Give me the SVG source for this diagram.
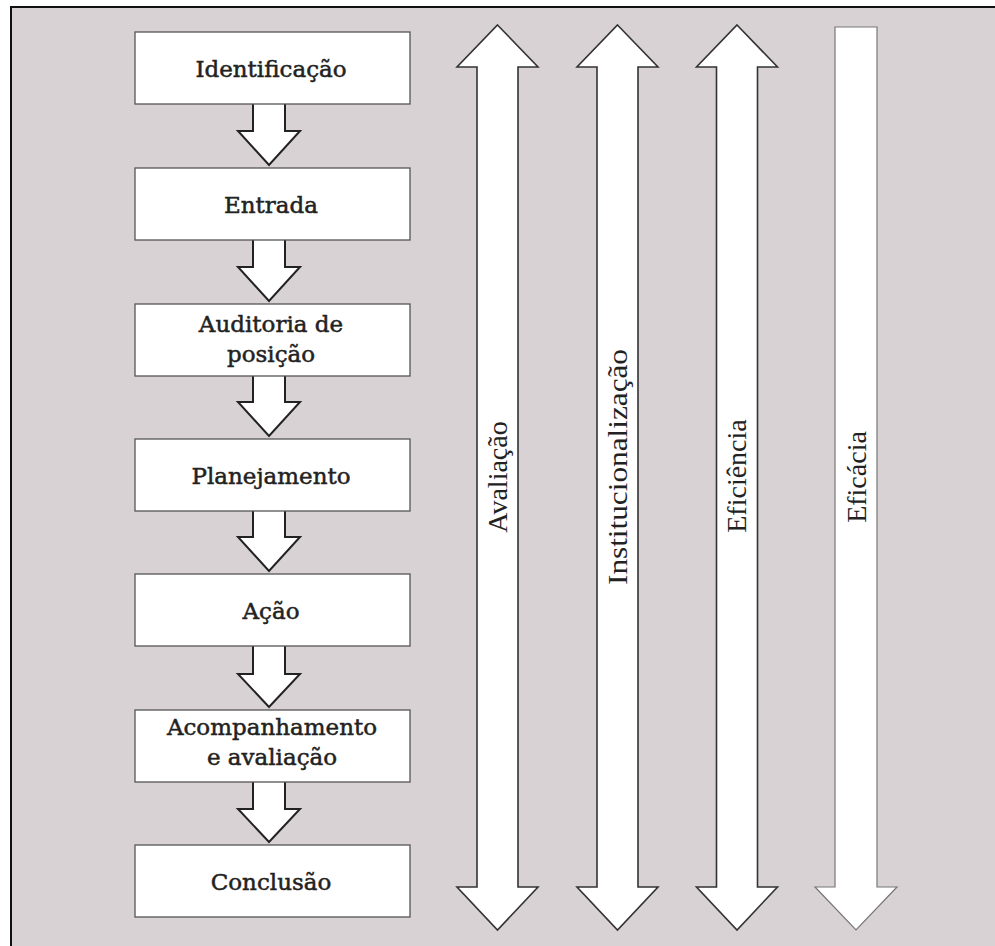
<svg xmlns="http://www.w3.org/2000/svg" width="995" height="946" viewBox="0 0 995 946">
<style>
.box{fill:#fff;stroke:#555;stroke-width:1.3}
.lbl{font-family:"DejaVu Serif","Liberation Serif",serif;font-size:23px;fill:#222;stroke:#222;stroke-width:0.5;text-anchor:middle}
.step{fill:#fff;stroke:#222;stroke-width:2;stroke-linejoin:miter}
.big{fill:#fff;stroke:#333;stroke-width:1.6;stroke-linejoin:miter}
.big4{fill:#fff;stroke:#777;stroke-width:1.2;stroke-linejoin:miter}
.vl{font-family:"Liberation Serif","Times New Roman",serif;font-size:28px;fill:#222;text-anchor:middle}
</style>
<rect x="11" y="7" width="1000" height="960" fill="#d9d2d5" stroke="#111" stroke-width="2"/>
<g id="connectors">
<path class="step" d="M253,104 V131 H238 L269,165 L300,131 H285 V104"/>
<path class="step" d="M253,240 V267 H238 L269,301 L300,267 H285 V240"/>
<path class="step" d="M253,376 V402 H238 L269,436 L300,402 H285 V376"/>
<path class="step" d="M253,511 V537 H238 L269,571 L300,537 H285 V511"/>
<path class="step" d="M253,646 V674 H238 L269,707 L300,674 H285 V646"/>
<path class="step" d="M253,782 V809 H238 L269,842 L300,809 H285 V782"/>
</g>
<g id="n1"><rect class="box" x="135" y="32" width="275" height="72"/><text class="lbl" x="271" y="77">Identificação</text></g>
<g id="n2"><rect class="box" x="135" y="168" width="275" height="72"/><text class="lbl" x="271" y="213">Entrada</text></g>
<g id="n3"><rect class="box" x="135" y="304" width="275" height="72"/><text class="lbl" x="271" y="332">Auditoria de</text><text class="lbl" x="271" y="362">posição</text></g>
<g id="n4"><rect class="box" x="135" y="439" width="275" height="72"/><text class="lbl" x="271" y="484">Planejamento</text></g>
<g id="n5"><rect class="box" x="135" y="574" width="275" height="72"/><text class="lbl" x="271" y="619">Ação</text></g>
<g id="n6"><rect class="box" x="135" y="710" width="275" height="72"/><text class="lbl" x="272" y="735">Acompanhamento</text><text class="lbl" x="272" y="765">e avaliação</text></g>
<g id="n7"><rect class="box" x="135" y="845" width="275" height="72"/><text class="lbl" x="271" y="890">Conclusão</text></g>
<g id="a1"><path class="big" d="M497.5,25 L538,67 H518 V887 H538 L497.5,930 L457,887 H477 V67 H457 Z"/><text class="vl" transform="translate(507,477) rotate(-90)">Avaliação</text></g>
<g id="a2"><path class="big" d="M617.5,25 L658,67 H638 V887 H658 L617.5,930 L577,887 H597 V67 H577 Z"/><text class="vl" transform="translate(627,467) rotate(-90)" textLength="236" lengthAdjust="spacingAndGlyphs">Institucionalização</text></g>
<g id="a3"><path class="big" d="M737,25 L777.5,67 H757.5 V887 H777.5 L737,930 L696.5,887 H716.5 V67 H696.5 Z"/><text class="vl" transform="translate(746,476) rotate(-90)">Eficiência</text></g>
<g id="a4"><path class="big4" d="M835,27 H877 V887 H897 L856,930 L815,887 H835 Z"/><text class="vl" transform="translate(866,477) rotate(-90)">Eficácia</text></g>
</svg>
